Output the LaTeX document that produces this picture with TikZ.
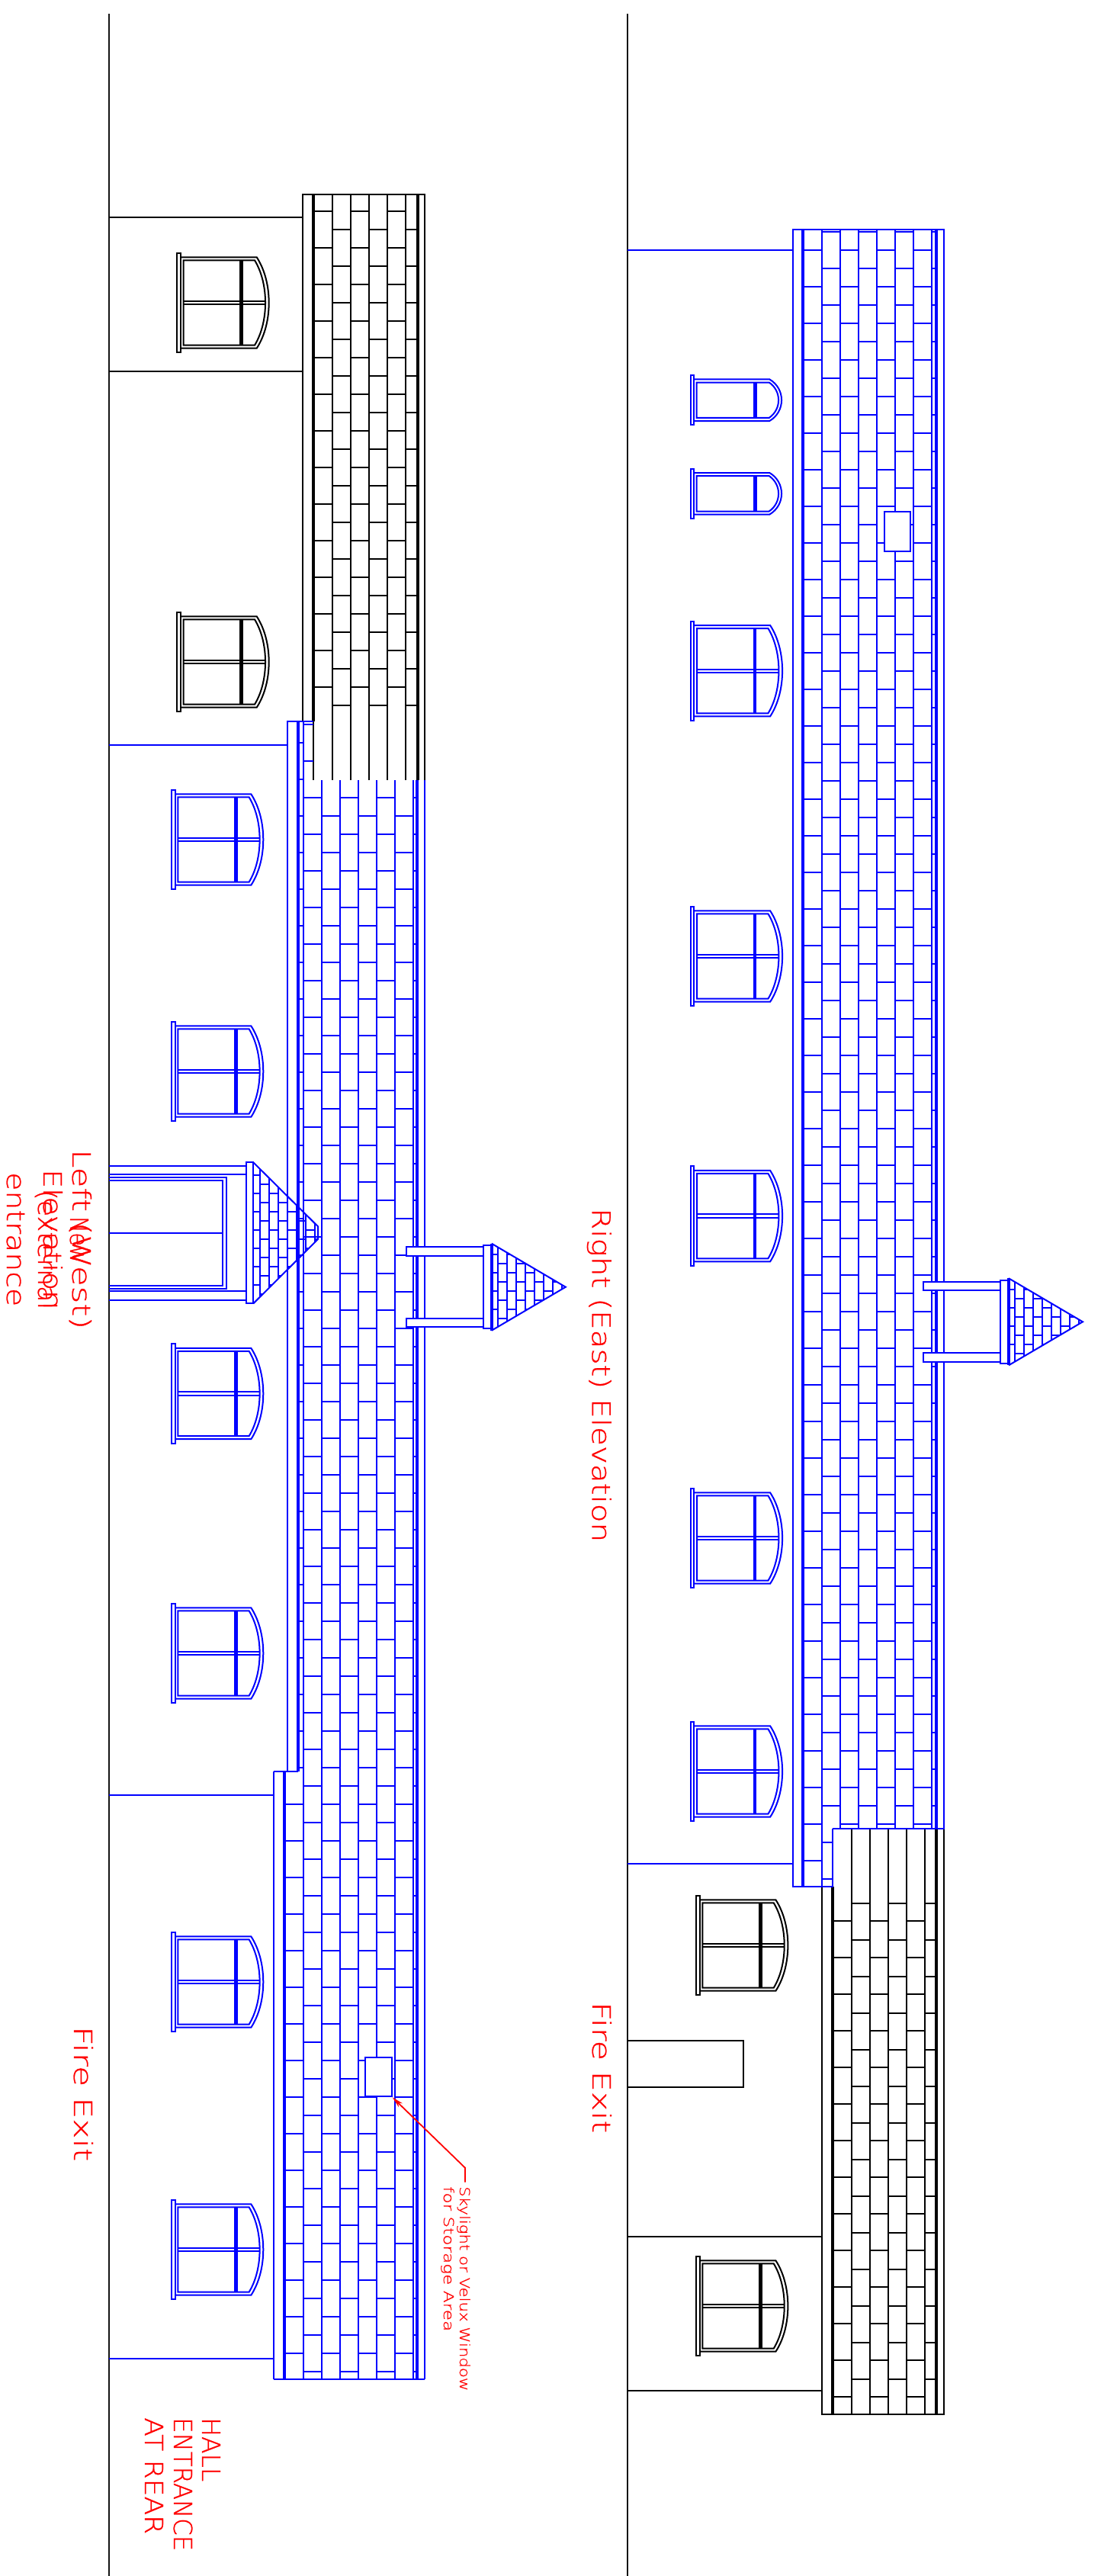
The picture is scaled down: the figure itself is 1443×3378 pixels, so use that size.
\documentclass[tikz,border=0pt]{standalone}
\usepackage{fontspec}
\usepackage{graphicx}
\newfontfamily\cadfont[FakeBold=0.8]{DejaVu Sans ExtraLight}
\usetikzlibrary{arrows.meta}
\definecolor{cadblue}{RGB}{0,0,255}
\definecolor{cadred}{RGB}{255,0,0}
\definecolor{cadblack}{RGB}{20,20,20}
\tikzset{
  thinln/.style={line width=2pt},
  thickln/.style={line width=3.8pt},
  mainln/.style={line width=2.2pt,color=cadblack},
  txt/.style={color=cadred,rotate=-90,anchor=base west,inner sep=0pt,font=\cadfont},
}
% horizontal courses: x1, x2, first y, last index
\newcommand{\courses}[4]{\foreach \k in {0,...,#4}{\draw[thinln] (#1,{#3+48*\k}) -- (#2,{#3+48*\k});}}
\newcommand{\bigwin}[2]{%
  \draw[thinln] (#1,#2-65.2) rectangle (#1+4.7,#2+65.2);
  \draw[thinln] (#1+4.7,#2-59.7) -- (#1+104.4,#2-59.7) .. controls (#1+125.7,#2-27) and (#1+125.7,#2+27) .. (#1+104.4,#2+59.7) -- (#1+4.7,#2+59.7);
  \draw[thinln] (#1+8.4,#2-55.7) -- (#1+101.7,#2-55.7) .. controls (#1+120.4,#2-25) and (#1+120.4,#2+25) .. (#1+101.7,#2+55.7) -- (#1+8.4,#2+55.7) -- cycle;
  \draw[line width=4.7pt] (#1+84.4,#2-55.7) -- (#1+84.4,#2+55.7);
  \draw[thinln] (#1+8.4,#2-2.2) -- (#1+115.4,#2-2.2) (#1+8.4,#2+2.2) -- (#1+115.4,#2+2.2);
}
\newcommand{\smallwin}[2]{%
  \draw[thinln] (#1,#2-32.7) rectangle (#1+4.7,#2+32.7);
  \draw[thinln] (#1+4.7,#2-27.3) -- (#1+103.6,#2-27.3) .. controls (#1+124.6,#2-15) and (#1+124.6,#2+15) .. (#1+103.6,#2+27.3) -- (#1+4.7,#2+27.3);
  \draw[thinln] (#1+8,#2-23.2) -- (#1+103,#2-23.2) .. controls (#1+119.5,#2-12) and (#1+119.5,#2+12) .. (#1+103,#2+23.2) -- (#1+8,#2+23.2) -- cycle;
  \draw[line width=4.7pt] (#1+84.6,#2-23.2) -- (#1+84.6,#2+23.2);
}
% rear porch: x of thick line, y of axis
\newcommand{\rearporch}[2]{%
  \draw[thinln,fill=white] (#1-112,#2-52.4) rectangle (#1-11,#2-41);
  \draw[thinln,fill=white] (#1-112,#2+41) rectangle (#1-11,#2+52.4);
  \draw[thinln,fill=white] (#1-11,#2-54.3) rectangle (#1-1,#2+54.3);
  \begin{scope}
    \clip (#1,#2-57) -- (#1+97,#2) -- (#1,#2+57) -- cycle;
    \foreach \c in {0,...,7}{\draw[thinln] (#1+8+12*\c,#2-60) -- (#1+8+12*\c,#2+60);}
    \foreach \c in {0,2,4,6}{\foreach \r in {0,...,3}{
      \draw[thinln] (#1+12*\c-4,#2-42.3+24*\r) -- (#1+12*\c+8,#2-42.3+24*\r);
      \draw[thinln] (#1+12*\c+8,#2-30.3+24*\r) -- (#1+12*\c+20,#2-30.3+24*\r);}}
  \end{scope}
  \draw[thickln] (#1,#2-57) -- (#1,#2+57);
  \draw[thinln,line join=miter] (#1,#2-57) -- (#1+97,#2) -- (#1,#2+57);
}
\begin{document}
\begin{tikzpicture}[x=1pt,y=-1pt]
\useasboundingbox (0,0) rectangle (1443,3378);
\fill[white] (0,0) rectangle (1443,3378);
\coordinate (leftTop) at (142.7,18);
\coordinate (leftBot) at (142.7,3378);
\coordinate (rightTop) at (823,18);
\coordinate (rightBot) at (823,3378);
\draw[mainln] (leftTop) -- (leftBot);
\draw[mainln] (rightTop) -- (rightBot);

% ---------- LEFT ELEVATION, black part
\begin{scope}[color=black]
  \draw[thinln] (142.7,285.4) -- (396.7,285.4) (142.7,487.1) -- (396.7,487.1);
  \draw[thinln] (396.7,946) -- (396.7,255) -- (557.3,255) -- (557.3,1023.3);
  \draw[thickln] (410.7,255) -- (410.7,946);
  \draw[thinln] (410.7,946) -- (410.7,1023.3);
  \foreach \x in {436,460,484,508,532}{\draw[thinln] (\x,255) -- (\x,1023.3);}
  \draw[thickln] (548,255) -- (548,1023.3);
  \foreach \a/\b in {410.7/436,460/484,508/532}{\courses{\a}{\b}{277}{13}}
  \foreach \a/\b in {436/460,484/508,532/548}{\courses{\a}{\b}{301.4}{13}}
  \bigwin{232.3}{397}
  \bigwin{232.3}{868}
\end{scope}

% ---------- LEFT ELEVATION, blue part
\begin{scope}[color=cadblue]
  \draw[thinln] (142.7,977) -- (377.3,977) (142.7,2354) -- (359,2354) (142.7,3093.3) -- (359,3093.3);
  \draw[thinln] (377.3,2323.3) -- (377.3,946) -- (410.7,946);
  \draw[thinln] (359,2323.3) -- (359,3120);
  \draw[thinln] (359,2323.3) -- (390.7,2323.3);
  \draw[thinln] (359,3120) -- (557.3,3120);
  \draw[thickln] (390.7,946) -- (390.7,2323.3);
  \draw[thickln] (372.7,2323.3) -- (372.7,3120);
  \draw[thinln] (397.7,946) -- (397.7,3120);
  \foreach \x in {421.7,445.7,469.7,493.7,517.7,541.7,557.3}{\draw[thinln] (\x,1023.3) -- (\x,3120);}
  \draw[thickln] (547.3,1023.3) -- (547.3,3120);
  \courses{397.7}{410.7}{950}{1}
  \foreach \a/\b in {397.7/421.7,445.7/469.7,493.7/517.7,541.7/547.3}{\courses{\a}{\b}{1046}{43}}
  \foreach \a/\b in {421.7/445.7,469.7/493.7,517.7/541.7}{\courses{\a}{\b}{1070}{42}}
  \courses{372.7}{397.7}{2366}{15}
  \courses{390.7}{397.7}{974}{28}
  \node[draw,thinln,fill=white,minimum width=34.4pt,minimum height=51pt,inner sep=0pt] (skyL) at (496.5,2723.8) {};
  \foreach \c in {1101,1405,1827.5,2168,2599,2950}{\bigwin{224.9}{\c}}
  % front porch
  \draw[thinln] (142.7,1529) -- (323.4,1529) (142.7,1540) -- (323.4,1540) (142.7,1693.3) -- (323.4,1693.3) (142.7,1705) -- (323.4,1705);
  \draw[thinln] (142.7,1544) -- (296.5,1544) -- (296.5,1690) -- (142.7,1690);
  \draw[thinln] (142.7,1548) -- (292,1548) -- (292,1686) -- (142.7,1686);
  \draw[thinln] (142.7,1616.7) -- (292,1616.7);
  \draw[thinln] (323.4,1524.3) rectangle (332.3,1709.3);
  \begin{scope}
    \clip (332.3,1524.3) -- (417,1608.3) -- (417,1625) -- (332.3,1709.3) -- cycle;
    \foreach \c in {0,...,6}{\draw[thinln] (341.3+12*\c,1520) -- (341.3+12*\c,1715);}
    \foreach \c in {0,2,4,6}{\foreach \r in {0,...,6}{
      \draw[thinln] (329.3+12*\c,1541+24*\r) -- (341.3+12*\c,1541+24*\r);
      \draw[thinln] (341.3+12*\c,1553+24*\r) -- (353.3+12*\c,1553+24*\r);}}
  \end{scope}
  \draw[thinln] (332.3,1524.3) -- (417,1608.3) -- (417,1625) -- (332.3,1709.3);
  \rearporch{644.8}{1687.7}
\end{scope}

% ---------- RIGHT ELEVATION, black part
\begin{scope}[color=black]
  \draw[thinln] (823,2933) -- (1077.7,2933) (823,3135.3) -- (1077.7,3135.3);
  \draw[thinln] (823,2675.9) -- (974.7,2675.9) -- (974.7,2736.6) -- (823,2736.6);
  \draw[thinln] (1077.7,2474.3) -- (1077.7,3166) -- (1238,3166) -- (1238,2398.3);
  \draw[thickln] (1091.7,2474.3) -- (1091.7,3166);
  \foreach \x in {1116.7,1140.7,1164.7,1188.7,1212.7}{\draw[thinln] (\x,2398.3) -- (\x,3166);}
  \draw[thickln] (1228.3,2398.3) -- (1228.3,3166);
  \foreach \a/\b in {1091.7/1116.7,1140.7/1164.7,1188.7/1212.7}{\courses{\a}{\b}{2519.3}{13}}
  \foreach \a/\b in {1116.7/1140.7,1164.7/1188.7,1212.7/1228.3}{\courses{\a}{\b}{2495.7}{13}}
  \bigwin{913}{2551}
  \bigwin{913}{3024}
\end{scope}

% ---------- RIGHT ELEVATION, blue part
\begin{scope}[color=cadblue]
  \draw[thinln] (823,327.7) -- (1040,327.7) (823,2444.3) -- (1040,2444.3);
  \draw[thinln] (1092,2398.3) -- (1092,2474.3) -- (1040,2474.3) -- (1040,301) -- (1237.7,301) -- (1237.7,2398.3) -- (1092,2398.3);
  \draw[thickln] (1053.3,301) -- (1053.3,2474.3);
  \draw[thinln] (1078.3,301) -- (1078.3,2474.3);
  \foreach \x in {1102.3,1126.3,1150.3,1174.3,1198.3,1222.3}{\draw[thinln] (\x,301) -- (\x,2398.3);}
  \draw[thickln] (1228.3,301) -- (1228.3,2398.3);
  \courses{1053.3}{1078.3}{327.7}{44}
  \foreach \a/\b in {1102.3/1126.3,1150.3/1174.3,1198.3/1222.3}{\courses{\a}{\b}{327.7}{43}}
  \foreach \a/\b in {1078.3/1102.3,1126.3/1150.3,1174.3/1198.3,1222.3/1228.3}{\courses{\a}{\b}{303.7}{43}}
  \courses{1078.3}{1092}{2415.7}{1}
  \node[draw,thinln,fill=white,minimum width=34.6pt,minimum height=52pt,inner sep=0pt] (skyR) at (1177,697.3) {};
  \smallwin{905.7}{524.7}
  \smallwin{905.7}{647.3}
  \foreach \c in {879.7,1254,1594.6,2017,2323}{\bigwin{905.7}{\c}}
  \rearporch{1323}{1733.3}
\end{scope}

% ---------- LABELS: size, printed length, text
\newcommand{\cad}[3]{\fontsize{#1}{#1}\selectfont\resizebox{#2pt}{\height}{#3}}
\node[txt] (t1) at (95,1507) {\cad{33}{236}{Left (West)}};
\node[txt] (t2) at (92,1595) {\cad{33}{62}{New}};
\node[txt] (t3) at (57,1533) {\cad{33}{184}{Elevation}};
\node[txt] (t4) at (50,1560) {\cad{33}{157}{(external}};
\node[txt] (t5) at (9,1537) {\cad{33}{176}{entrance}};
\node[txt] (t6) at (776.7,1584) {\cad{33}{438}{Right (East) Elevation}};
\node[txt] (t7) at (97,2657) {\cad{33}{177}{Fire Exit}};
\node[txt] (t8) at (777,2625) {\cad{33}{172}{Fire Exit}};
\node[txt] (t9) at (265,3170) {\cad{33}{84}{HALL}};
\node[txt] (t10) at (228,3170) {\cad{33}{175}{ENTRANCE}};
\node[txt] (t11) at (190,3170) {\cad{33}{153}{AT REAR}};
\node[txt] (t12) at (603,2867) {\cad{18}{268}{Skylight or Velux Window}};
\node[txt] (t13) at (582,2867) {\cad{18}{190}{for Storage Area}};
\coordinate (lead) at (610,2861.7);
\coordinate (bend) at (610,2842.7);
\draw[color=cadred,line width=1.8pt,-{Stealth[length=15pt,width=7pt]}] (lead) -- (bend) -- (skyL.south east);
\end{tikzpicture}
\end{document}
